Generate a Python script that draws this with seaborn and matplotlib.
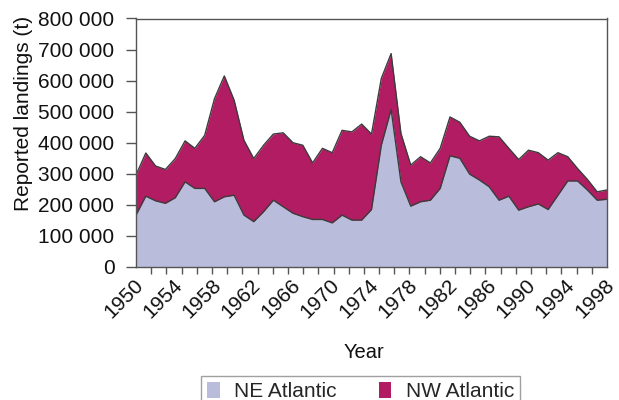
import numpy as np
import pandas as pd
import matplotlib
matplotlib.use("Agg")
import matplotlib.pyplot as plt
import matplotlib.transforms as mtransforms
from matplotlib.ticker import FixedLocator, FuncFormatter
from matplotlib.patches import Patch
import seaborn as sns

# ---- data (thousand tonnes) ----
years = list(range(1950, 1999))
ne_atlantic = [167, 228, 213, 205, 223, 274, 253, 253, 210, 226,
               231, 167, 146, 178, 215, 194, 173, 162, 153, 153,
               142, 167, 151, 151, 185, 392, 507, 274, 196, 210,
               215, 253, 358, 350, 299, 280, 258, 215, 228, 183,
               194, 203, 185, 231, 277, 277, 248, 215, 218]
nw_atlantic = [129, 139, 112, 109, 126, 132, 129, 171, 332, 389,
               306, 241, 203, 214, 213, 238, 227, 230, 182, 229,
               226, 273, 284, 309, 243, 215, 180, 156, 132, 145,
               120, 129, 125, 116, 122, 126, 163, 204, 154, 163,
               182, 165, 159, 137, 78, 40, 34, 27, 30]
series_names = ["NE Atlantic", "NW Atlantic"]
x_tick_years = list(range(1950, 1999, 4))
y_ticks = [0, 100000, 200000, 300000, 400000, 500000, 600000, 700000, 800000]

ne_color = "#b9bddb"
nw_color = "#b11c63"
edge_color = "#3c3c3c"
spine_color = "#555555"
text_color = "#111111"
FS = 15

sns.set_theme(style="ticks")
plt.rcParams["font.family"] = ["Liberation Sans", "DejaVu Sans"]

df = pd.DataFrame({"Year": years,
                   "NE": np.array(ne_atlantic) * 1000,
                   "NW": np.array(nw_atlantic) * 1000})
df["Total"] = df["NE"] + df["NW"]

fig = plt.figure(figsize=(6.19, 4.00), dpi=100)
L, R, T, B = 136, 607, 18.5, 267
ax = fig.add_axes([L / 619, 1 - B / 400, (R - L) / 619, (B - T) / 400])

ax.fill_between(df["Year"], 0, df["NE"], color=ne_color, lw=0, zorder=1)
ax.fill_between(df["Year"], df["NE"], df["Total"], color=nw_color, lw=0, zorder=1)
sns.lineplot(data=df, x="Year", y="NE", color=edge_color, lw=1.0, ax=ax, zorder=2)
sns.lineplot(data=df, x="Year", y="Total", color=edge_color, lw=1.0, ax=ax, zorder=2)

ax.set_xlim(1950, 1998)
ax.set_ylim(0, 800000)

# y axis
ax.yaxis.set_major_locator(FixedLocator(y_ticks))
ax.yaxis.set_major_formatter(FuncFormatter(lambda v, p: f"{v:,.0f}".replace(",", " ")))
ax.tick_params(axis="y", direction="out", length=7, width=1, color=spine_color,
               labelsize=FS, pad=8.5, labelcolor=text_color)

# x axis: labels every 4 years, tick marks on a finer grid
ax.xaxis.set_major_locator(FixedLocator(x_tick_years))
ax.xaxis.set_minor_locator(FixedLocator(np.linspace(1950, 1998, 32)))
ax.tick_params(axis="x", which="major", length=0, labelsize=FS, pad=11,
               labelcolor=text_color)
ax.tick_params(axis="x", which="minor", direction="out", length=5, width=1,
               color=spine_color)
offset = mtransforms.ScaledTranslation(4 / 100, 0, fig.dpi_scale_trans)
for lab in ax.get_xticklabels():
    lab.set_rotation(45)
    lab.set_ha("right")
    lab.set_va("center")
    lab.set_rotation_mode("anchor")
    lab.set_transform(lab.get_transform() + offset)

for s in ax.spines.values():
    s.set_visible(True)
    s.set_color(spine_color)
    s.set_linewidth(1)

ax.set_xlabel("Year", fontsize=14.5, color=text_color)
ax.set_ylabel("Reported landings (t)", fontsize=FS, color=text_color)
ax.xaxis.set_label_coords(0.483, -0.305)
ax.yaxis.set_label_coords(-0.219, 0.616)

handles = [Patch(facecolor=ne_color, edgecolor="none", label=series_names[0]),
           Patch(facecolor=nw_color, edgecolor="none", label=series_names[1])]
leg = fig.legend(handles=handles, loc="upper left",
                 bbox_to_anchor=(201 / 619, 1 - 376 / 400), ncol=2,
                 frameon=True, fancybox=False, fontsize=FS,
                 handlelength=0.6, handleheight=0.8, handletextpad=0.7,
                 columnspacing=2.0, borderpad=0.3, borderaxespad=0)
leg.get_frame().set_edgecolor("#888888")
leg.get_frame().set_linewidth(1)

fig.savefig("out.png", dpi=100)
